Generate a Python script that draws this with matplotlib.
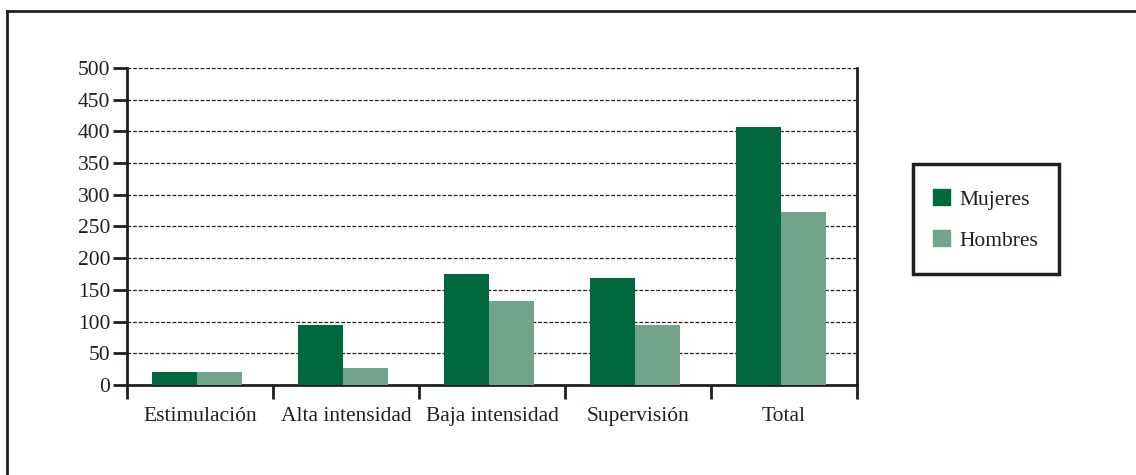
import numpy as np
import matplotlib.pyplot as plt
from matplotlib.lines import Line2D
from matplotlib.patches import Patch, Rectangle

plt.rcParams['font.family'] = ['Liberation Serif', 'DejaVu Serif']

categories = ['Estimulación', 'Alta intensidad', 'Baja intensidad', 'Supervisión', 'Total']
mujeres = [20, 95, 175, 169, 407]
hombres = [20, 27, 132, 95, 273]
yticks = [0, 50, 100, 150, 200, 250, 300, 350, 400, 450, 500]

c_muj = '#00673F'
c_hom = '#71A48A'
edge = '#231F20'

W, H = 1136, 475
fig = plt.figure(figsize=(W / 100, H / 100), dpi=100)
ax = fig.add_axes((127 / W, 1 - 385 / H, (857 - 127) / W, (385 - 68) / H))

x = np.arange(len(categories))
bw = 0.31
ax.bar(x - bw / 2 - 0.02, mujeres, bw, color=c_muj, zorder=3)
ax.bar(x + bw / 2 - 0.02, hombres, bw, color=c_hom, zorder=3)

ax.set_xlim(-0.5, len(categories) - 0.5)
ax.set_ylim(0, 500)
ax.set_yticks(yticks)
ax.set_yticklabels([str(v) for v in yticks], fontsize=15.5, color=edge)

# ticks between categories, labels centred
ax.set_xticks(np.arange(len(categories) + 1) - 0.5)
ax.set_xticklabels([])
ax.set_xticks(x, minor=True)
ax.set_xticklabels(categories, minor=True, fontsize=15.5, color=edge)
ax.tick_params(axis='x', which='major', length=10, width=2, color=edge, direction='out')
ax.tick_params(axis='x', which='minor', length=0, pad=16)
ax.tick_params(axis='y', length=10, width=2, color=edge, pad=2)

for v in yticks[1:]:
    ax.axhline(v, color=edge, lw=0.9, ls=(0, (3, 1.5)), zorder=1)

ax.spines['top'].set_visible(False)
for s in ['left', 'bottom', 'right']:
    ax.spines[s].set_linewidth(2)
    ax.spines[s].set_color(edge)

# legend box drawn separately so its padding matches
fig.add_artist(Rectangle((913 / W, 1 - 274 / H), (1059 - 913) / W, (274 - 164) / H,
                         transform=fig.transFigure, fill=False, edgecolor=edge, lw=2.5))
handles = [Patch(color=c_muj, label='Mujeres'), Patch(color=c_hom, label='Hombres')]
leg = fig.legend(handles=handles, loc='center left',
                 bbox_to_anchor=(933 / W, 1 - 220 / H), fontsize=15.5,
                 frameon=False, handlelength=0.78, handleheight=0.78,
                 handletextpad=0.45, labelspacing=0.95, borderpad=0, borderaxespad=0)
for t in leg.get_texts():
    t.set_color(edge)

# outer frame (top and left edges)
fig.add_artist(Line2D([7 / W, 7 / W], [0, 1 - 11 / H], transform=fig.transFigure,
                      color=edge, lw=2))
fig.add_artist(Line2D([7 / W, 1], [1 - 11 / H, 1 - 11 / H], transform=fig.transFigure,
                      color=edge, lw=2))

fig.savefig('out.png', dpi=100)
